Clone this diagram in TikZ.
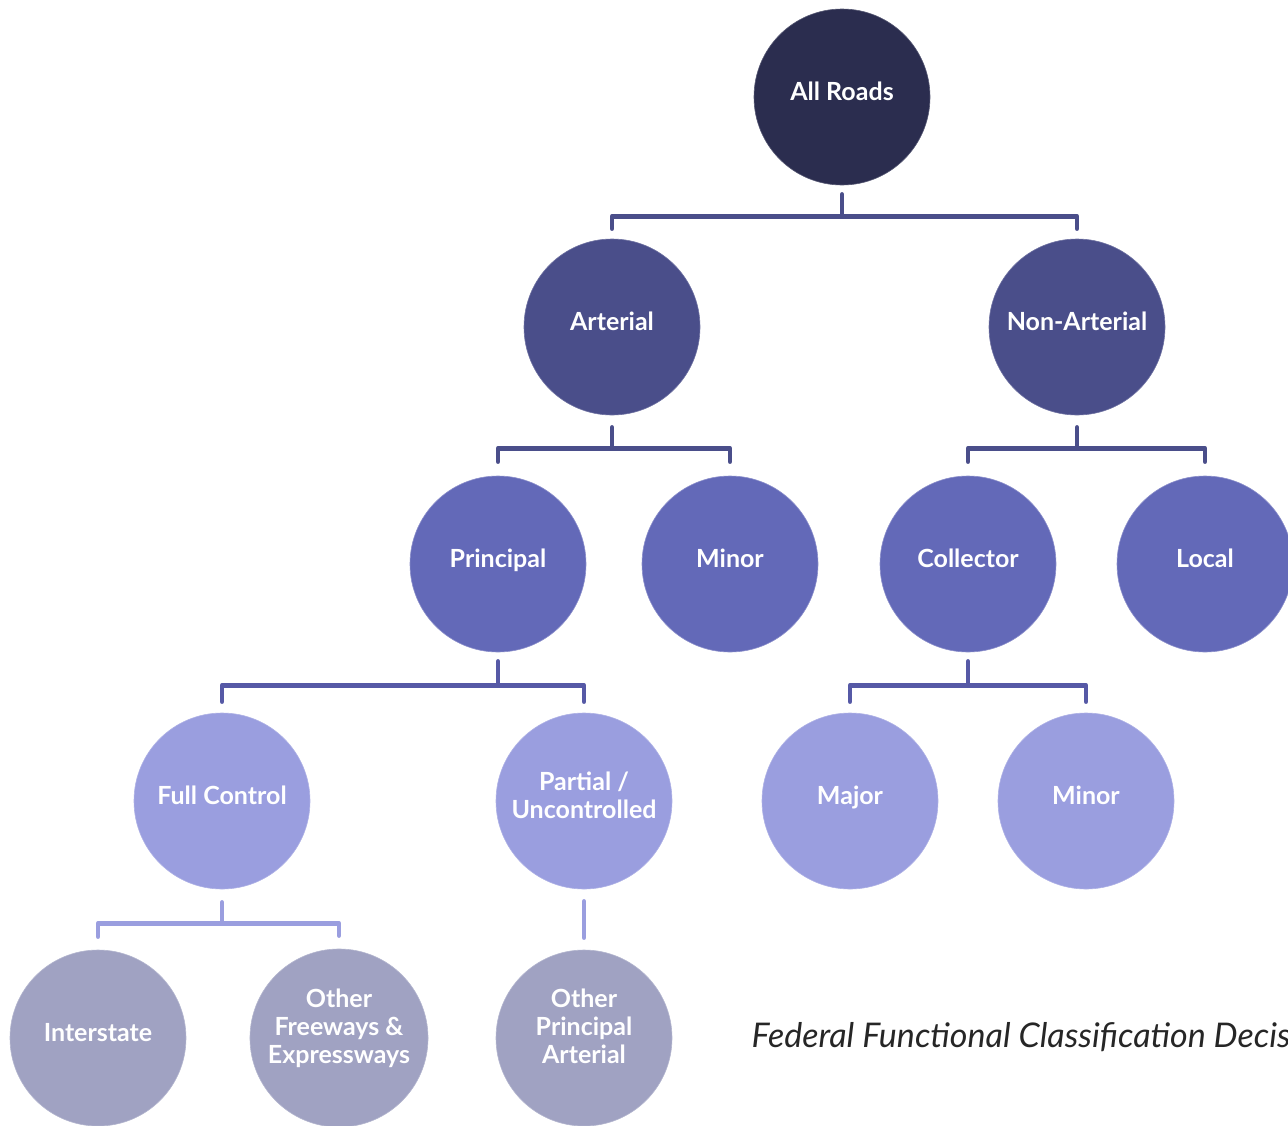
\documentclass[tikz,border=0pt]{standalone}
\usepackage{fontspec}
\setmainfont{Lato}
\usepackage{xcolor}
\usetikzlibrary{positioning}

\definecolor{rootcol}{RGB}{43,45,79}
\definecolor{lvltwo}{RGB}{74,78,138}
\definecolor{lvlthree}{RGB}{99,105,184}
\definecolor{lvlfour}{RGB}{154,158,223}
\definecolor{lvlfive}{RGB}{160,162,194}
\definecolor{linkmid}{RGB}{86,89,166}

\begin{document}
\begin{tikzpicture}[
        x=1pt, y=-1pt,
        node distance=237pt,
        road/.style={circle, minimum size=176pt, inner sep=2pt, text=white, align=center,
            font=\fontsize{25}{28}\selectfont\bfseries, text depth=12pt, line width=0.6pt},
        rootnode/.style={road, fill=rootcol, draw=rootcol!80!white},
        classnode/.style={road, fill=lvltwo, draw=lvltwo!80!white},
        subnode/.style={road, fill=lvlthree, draw=lvlthree!75!white},
        leafnode/.style={road, fill=lvlfour, draw=lvlfour!80!white},
        endnode/.style={road, fill=lvlfive, draw=lvlfive!80!white},
        link/.style={line width=4.5pt, line cap=round, line join=round}
    ]
        \useasboundingbox (0,0) rectangle (1288,1125);

        % Nodes
        \node[rootnode] (root) at (842,97) {All Roads};
        \node[classnode, below of=root, xshift=-230pt, yshift=7pt] (arterial) {Arterial};
        \node[classnode, below of=root, xshift=235pt, yshift=7pt] (nonart) {Non-Arterial};
        \node[subnode, below of=arterial, xshift=-114pt] (principal) {Principal};
        \node[subnode, below of=arterial, xshift=118pt] (artminor) {Minor};
        \node[subnode, below of=nonart, xshift=-109pt] (collector) {Collector};
        \node[subnode, below of=nonart, xshift=128pt] (local) {Local};
        \node[leafnode, below of=principal, xshift=-276pt] (full) {Full Control};
        \node[leafnode, below of=principal, xshift=86pt] (partial) {Partial /\\Uncontrolled};
        \node[leafnode, below of=collector, xshift=-118pt] (major) {Major};
        \node[leafnode, below of=collector, xshift=118pt] (colminor) {Minor};
        \node[endnode, below of=full, xshift=-124pt] (interstate) {Interstate};
        \node[endnode, below of=full, xshift=117pt, text depth=24pt] (freeways) {Other\\Freeways \&\\Expressways};
        \node[endnode, below of=partial, text depth=24pt] (otherpa) {Other\\Principal\\Arterial};

        \node[anchor=base west, text=black!85, font=\fontsize{34}{40}\selectfont\itshape]
            (caption) at (748,1047) {Federal Functional Classification Decision Tree};

        % Connectors
        \draw[link, lvltwo] ([yshift=-9pt]root.south) -- ++(0,-22pt) coordinate (rootbar);
        \draw[link, lvltwo] ([yshift=10pt]arterial.north) |- (rootbar) -| ([yshift=10pt]nonart.north);

        \draw[link, lvltwo] ([yshift=-12pt]arterial.south) -- ++(0,-21pt) coordinate (artbar);
        \draw[link, lvltwo] ([yshift=14pt]principal.north) |- (artbar) -| ([yshift=14pt]artminor.north);

        \draw[link, lvltwo] ([yshift=-12pt]nonart.south) -- ++(0,-21pt) coordinate (nonbar);
        \draw[link, lvltwo] ([yshift=14pt]collector.north) |- (nonbar) -| ([yshift=14pt]local.north);

        \draw[link, linkmid] ([yshift=-9pt]principal.south) -- ++(0,-24pt) coordinate (prinbar);
        \draw[link, linkmid] ([yshift=11pt]full.north) |- (prinbar) -| ([yshift=11pt]partial.north);

        \draw[link, linkmid] ([yshift=-9pt]collector.south) -- ++(0,-24pt) coordinate (colbar);
        \draw[link, linkmid] ([yshift=11pt]major.north) |- (colbar) -| ([yshift=11pt]colminor.north);

        \draw[link, lvlfour] ([yshift=-13pt]full.south) -- ++(0,-21pt) coordinate (fullbar);
        \draw[link, lvlfour] ([yshift=13pt]interstate.north) |- (fullbar) -| ([yshift=13pt]freeways.north);

        \draw[link, lvlfour] ([yshift=-12pt]partial.south) -- ([yshift=12pt]otherpa.north);
    \end{tikzpicture}
\end{document}
